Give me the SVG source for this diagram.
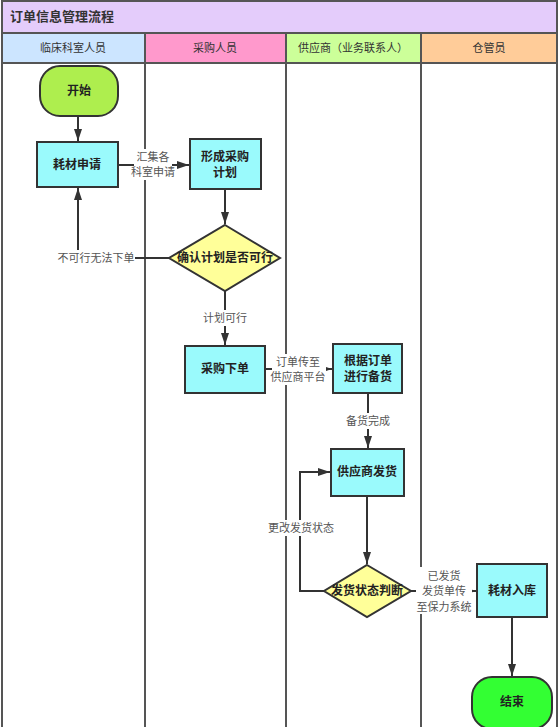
<svg xmlns="http://www.w3.org/2000/svg" width="559" height="727" viewBox="0 0 559 727">
<defs>
<style>
.lane{stroke:#555;stroke-width:2;fill:none}
.hdr{font-family:"Noto Sans CJK SC",sans-serif;font-size:11px;fill:#333;text-anchor:middle}
.node{stroke:#333;stroke-width:2}
.nt{font-family:"Noto Sans CJK SC",sans-serif;font-size:12px;font-weight:bold;fill:#222;text-anchor:middle}
.lbl{font-family:"Noto Sans CJK SC",sans-serif;font-size:11px;fill:#555;text-anchor:middle}
.bg{fill:#fff}
.c{stroke:#333;stroke-width:2;fill:none}
</style>
<marker id="ah" viewBox="0 0 12 10" refX="12" refY="5" markerWidth="6" markerHeight="5" orient="auto" markerUnits="strokeWidth">
<path d="M0,1 L12,5 L0,9 z" fill="#333"/>
</marker>
</defs>
<rect x="0" y="0" width="559" height="727" fill="#fff"/>
<g id="title">
<rect x="2" y="1" width="555" height="32" fill="#E4CCFB" stroke="#555" stroke-width="2"/>
<text x="10" y="21" font-family="Noto Sans CJK SC,sans-serif" font-size="13" font-weight="bold" fill="#333">订单信息管理流程</text>
</g>
<g id="headers">
<rect x="2" y="33" width="143" height="30" fill="#CCE5FF" stroke="#555" stroke-width="2"/>
<rect x="145" y="33" width="141" height="30" fill="#FF99CC" stroke="#555" stroke-width="2"/>
<rect x="286" y="33" width="135" height="30" fill="#CCFF99" stroke="#555" stroke-width="2"/>
<rect x="421" y="33" width="136" height="30" fill="#FFCC99" stroke="#555" stroke-width="2"/>
<text class="hdr" x="73" y="52">临床科室人员</text>
<text class="hdr" x="215" y="52">采购人员</text>
<text class="hdr" x="353" y="52">供应商（业务联系人）</text>
<text class="hdr" x="489" y="52">仓管员</text>
</g>
<g id="lanes">
<line class="lane" x1="2" y1="63" x2="2" y2="727"/>
<line class="lane" x1="145" y1="63" x2="145" y2="727"/>
<line class="lane" x1="286" y1="63" x2="286" y2="727"/>
<line class="lane" x1="421" y1="63" x2="421" y2="727"/>
<line class="lane" x1="557" y1="63" x2="557" y2="727"/>
</g>
<g id="connectors">
<line class="c" x1="78" y1="116" x2="78" y2="141" marker-end="url(#ah)"/>
<line class="c" x1="118" y1="165" x2="189" y2="165" marker-end="url(#ah)"/>
<line class="c" x1="225" y1="189" x2="225" y2="224" marker-end="url(#ah)"/>
<polyline class="c" points="169,258 78,258 78,188" marker-end="url(#ah)"/>
<line class="c" x1="225" y1="291" x2="225" y2="345" marker-end="url(#ah)"/>
<line class="c" x1="265" y1="369" x2="332" y2="369" marker-end="url(#ah)"/>
<line class="c" x1="368" y1="393" x2="368" y2="448" marker-end="url(#ah)"/>
<line class="c" x1="367" y1="496" x2="367" y2="564" marker-end="url(#ah)"/>
<polyline class="c" points="324,591 300,591 300,472 330,472" marker-end="url(#ah)"/>
<line class="c" x1="411" y1="591" x2="476" y2="591" marker-end="url(#ah)"/>
<line class="c" x1="512" y1="617" x2="512" y2="676" marker-end="url(#ah)"/>
<rect class="bg" x="134" y="149" width="38" height="31"/>
<text class="lbl" x="153" y="161">汇集各</text>
<text class="lbl" x="153" y="176">科室申请</text>
<rect class="bg" x="57" y="250" width="78" height="16"/>
<text class="lbl" x="96" y="262">不可行无法下单</text>
<rect class="bg" x="202" y="310" width="46" height="16"/>
<text class="lbl" x="225" y="322">计划可行</text>
<rect class="bg" x="272" y="354" width="54" height="31"/>
<text class="lbl" x="298" y="366">订单传至</text>
<text class="lbl" x="298" y="381">供应商平台</text>
<rect class="bg" x="345" y="413" width="46" height="16"/>
<text class="lbl" x="368" y="425">备货完成</text>
<rect class="bg" x="268" y="520" width="66" height="16"/>
<text class="lbl" x="301" y="532">更改发货状态</text>
<rect class="bg" x="416" y="567" width="56" height="47"/>
<text class="lbl" x="444" y="580">已发货</text>
<text class="lbl" x="444" y="595">发货单传</text>
<text class="lbl" x="444" y="611">至保力系统</text>
</g>
<g id="start">
<rect class="node" x="40" y="66" width="78" height="50" rx="20" ry="20" fill="#AEEE4E"/>
<text class="nt" x="79" y="95">开始</text>
</g>
<g id="apply">
<rect class="node" x="37" y="142" width="81" height="45" fill="#9AFAFC"/>
<text class="nt" x="77" y="169">耗材申请</text>
</g>
<g id="plan">
<rect class="node" x="190" y="139" width="71" height="50" fill="#9AFAFC"/>
<text class="nt" x="225" y="161">形成采购</text>
<text class="nt" x="225" y="177">计划</text>
</g>
<g id="check">
<polygon class="node" points="225,225 280,258 225,291 169,258" fill="#FFFF99"/>
<text class="nt" x="225" y="262">确认计划是否可行</text>
</g>
<g id="order">
<rect class="node" x="185" y="346" width="80" height="47" fill="#9AFAFC"/>
<text class="nt" x="225" y="373">采购下单</text>
</g>
<g id="prepare">
<rect class="node" x="333" y="344" width="69" height="49" fill="#9AFAFC"/>
<text class="nt" x="368" y="365">根据订单</text>
<text class="nt" x="368" y="381">进行备货</text>
</g>
<g id="ship">
<rect class="node" x="331" y="449" width="73" height="47" fill="#9AFAFC"/>
<text class="nt" x="367" y="476">供应商发货</text>
</g>
<g id="judge">
<polygon class="node" points="367,565 411,591 367,617 324,591" fill="#FFFF99"/>
<text class="nt" x="367" y="595">发货状态判断</text>
</g>
<g id="stock">
<rect class="node" x="477" y="564" width="70" height="53" fill="#9AFAFC"/>
<text class="nt" x="512" y="595">耗材入库</text>
</g>
<g id="end">
<rect class="node" x="472" y="677" width="80" height="52" rx="20" ry="20" fill="#33FF33"/>
<text class="nt" x="512" y="706">结束</text>
</g>
</svg>
